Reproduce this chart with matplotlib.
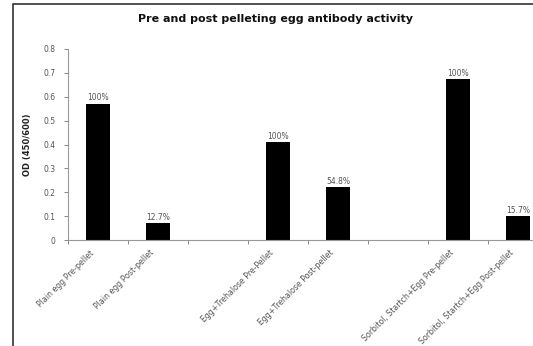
import numpy as np
import matplotlib.pyplot as plt
from matplotlib.patches import Rectangle

# datos
etiquetas = ["Plain egg Pre-pellet", "Plain egg Post-pellet", "",
             "Egg+Trehalose Pre-Pellet", "Egg+Trehalose Post-pellet", "",
             "Sorbitol, Startch+Egg Pre-pellet", "Sorbitol, Startch+Egg Post-pellet"]
od = [0.57, 0.071, 0.0, 0.41, 0.222, 0.0, 0.674, 0.10]
porcentajes = ["100%", "12.7%", "", "100%", "54.8%", "", "100%", "15.7%"]
y_ticks = [0, 0.1, 0.2, 0.3, 0.4, 0.5, 0.6, 0.7, 0.8]

gris = '#555555'
fig = plt.figure(figsize=(5.33, 3.46), dpi=100)

# marco exterior (recortado a la derecha y abajo)
fig.patches.append(Rectangle((13/533, -0.1), 1.2, 1.1 - 4/346,
                             transform=fig.transFigure, fill=False,
                             edgecolor='#333333', linewidth=1.2))

ax = fig.add_axes([68/533, 1 - 240/346, 480/533, 191/346])
x = np.arange(len(etiquetas))
visibles = [i for i in x if etiquetas[i] != ""]
ax.bar([x[i] for i in visibles], [od[i] for i in visibles], width=0.39,
       color='black')
for i in visibles:
    ax.text(x[i], od[i] + 0.006, porcentajes[i], ha='center', va='bottom',
            fontsize=5.5, color=gris)

ax.set_xlim(-0.5, len(etiquetas) - 0.5)
ax.set_ylim(0, 0.8)
ax.set_yticks(y_ticks)
ax.set_yticklabels([("%.1f" % v) if v else "0" for v in y_ticks])
# etiquetas un poco a la izquierda del centro de la barra
ax.set_xticks(x - 0.15)
ax.set_xticklabels(etiquetas, rotation=45, ha='right', rotation_mode='anchor',
                   fontsize=5.7, color=gris)
ax.set_xticks(np.arange(len(etiquetas) + 1) - 0.5, minor=True)
ax.tick_params(axis='x', which='major', length=0, pad=6)
ax.tick_params(axis='x', which='minor', length=3, color='#888888', width=0.7)
ax.tick_params(axis='y', labelsize=5.5, labelcolor=gris, length=3,
               color='#888888', width=0.7, pad=6)
for s in ['top', 'right']:
    ax.spines[s].set_visible(False)
for s in ['left', 'bottom']:
    ax.spines[s].set_color('#999999')
    ax.spines[s].set_linewidth(0.8)

ax.set_ylabel("OD (450/600)", fontsize=6, fontweight='bold', color='#222222',
              labelpad=8)
fig.text(275/533, 1 - 19/346, "Pre and post pelleting egg antibody activity",
         ha='center', va='center', fontsize=8, fontweight='bold', color='#111111')

plt.savefig('out.png', dpi=100)
